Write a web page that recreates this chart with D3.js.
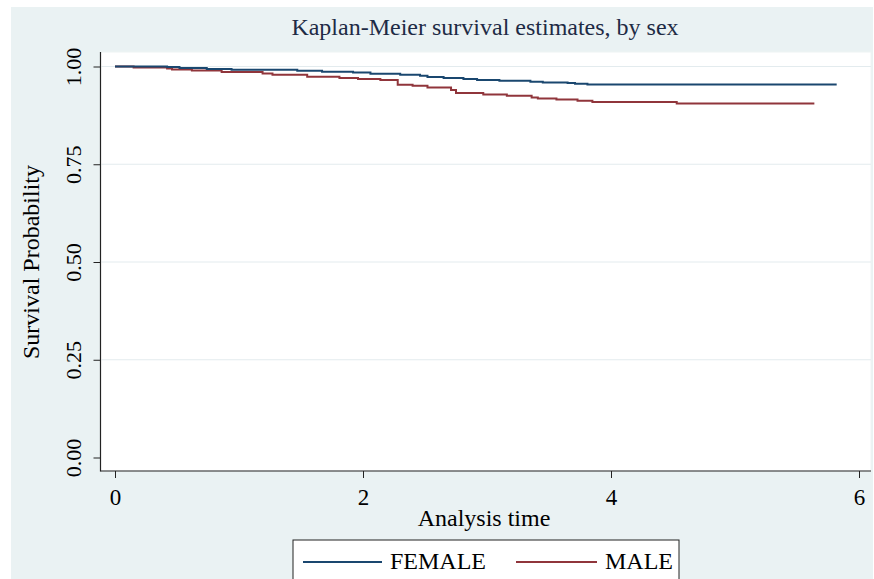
<!DOCTYPE html>
<html>
<head>
<meta charset="utf-8">
<script src="https://cdn.jsdelivr.net/npm/d3@7"></script>
<style>
  html, body { margin: 0; padding: 0; background: #ffffff; }
  svg { display: block; }
  text { font-family: "Liberation Serif", "DejaVu Serif", serif; }
</style>
</head>
<body>
<svg id="chart" width="874" height="579"></svg>
<script>
// ---- data ----
const titleText = "Kaplan-Meier survival estimates, by sex";
const xTitle = "Analysis time";
const yTitle = "Survival Probability";
const xTicks = [0, 2, 4, 6];
const yTicks = [0, 0.25, 0.5, 0.75, 1];
const seriesNames = ["FEMALE", "MALE"];

const femaleTime = [0, 0.42, 0.52, 0.74, 0.94, 1.47, 1.67, 1.92, 2.06, 2.30, 2.46, 2.52, 2.65, 2.81, 2.92, 3.10, 3.35, 3.45, 3.65, 3.71, 3.81, 5.82];
const femaleSurv = [1.0, 0.9985, 0.996, 0.9933, 0.9916, 0.989, 0.9864, 0.9847, 0.9813, 0.9788, 0.9762, 0.9729, 0.9703, 0.9678, 0.9652, 0.9634, 0.9609, 0.959, 0.9575, 0.9558, 0.954, 0.954];

const maleTime = [0, 0.15, 0.42, 0.46, 0.62, 0.86, 1.19, 1.27, 1.55, 1.81, 1.96, 2.14, 2.28, 2.40, 2.52, 2.71, 2.75, 2.97, 3.16, 3.36, 3.41, 3.56, 3.73, 3.85, 4.53, 5.64];
const maleSurv = [1.0, 0.9974, 0.9949, 0.9923, 0.9898, 0.9857, 0.9821, 0.9788, 0.9737, 0.9703, 0.9678, 0.9652, 0.9532, 0.9506, 0.9463, 0.940, 0.932, 0.9284, 0.925, 0.9207, 0.918, 0.9156, 0.9123, 0.9089, 0.9054, 0.9054];

// ---- layout ----
const W = 874, H = 579;
const plot = { left: 100.5, right: 871, top: 52, bottom: 471 };
const colors = { FEMALE: "#1A476F", MALE: "#90353B" };

const svg = d3.select("#chart");

// graph region
svg.append("rect").attr("x", 11).attr("y", 7).attr("width", 862).attr("height", H - 7)
  .attr("fill", "#EAF2F3");
// plot region
svg.append("rect").attr("x", plot.left).attr("y", plot.top)
  .attr("width", plot.right - plot.left).attr("height", plot.bottom - plot.top)
  .attr("fill", "#ffffff").attr("stroke", "#EEF3F4").attr("stroke-width", 1);

const x = d3.scaleLinear().domain([0, 6]).range([115, 859]);
const y = d3.scaleLinear().domain([0, 1]).range([457.5, 66.5]);

// gridlines
svg.append("g").selectAll("line").data(yTicks.filter(d => d > 0)).join("line")
  .attr("x1", plot.left + 1).attr("x2", plot.right)
  .attr("y1", d => y(d)).attr("y2", d => y(d))
  .attr("stroke", "#E3EBEE").attr("stroke-width", 1);

// curves
const line = d3.line().x(d => x(d[0])).y(d => y(d[1])).curve(d3.curveStepAfter);
const fData = femaleTime.map((t, i) => [t, femaleSurv[i]]);
const mData = maleTime.map((t, i) => [t, maleSurv[i]]);
svg.append("path").datum(mData).attr("d", line).attr("fill", "none")
  .attr("stroke", colors.MALE).attr("stroke-width", 2);
svg.append("path").datum(fData).attr("d", line).attr("fill", "none")
  .attr("stroke", colors.FEMALE).attr("stroke-width", 2);

// axes
const yAxis = d3.axisLeft(y).tickValues(yTicks).tickFormat(d3.format(".2f")).tickSize(7).tickSizeOuter(0);
const gy = svg.append("g").attr("transform", `translate(${plot.left},0)`).call(yAxis);
gy.select(".domain").remove();
gy.selectAll(".tick line").attr("stroke", "#222");
gy.selectAll(".tick text")
  .attr("x", null).attr("dy", null)
  .attr("transform", "translate(-20,0) rotate(-90)")
  .attr("text-anchor", "middle")
  .attr("font-size", 22).attr("fill", "#000")
  .style("font-family", "'Liberation Serif', serif");

const xAxis = d3.axisBottom(x).tickValues(xTicks).tickFormat(d3.format("d")).tickSize(7).tickSizeOuter(0);
const gx = svg.append("g").attr("transform", `translate(0,${plot.bottom})`).call(xAxis);
gx.select(".domain").remove();
gx.selectAll(".tick line").attr("stroke", "#222");
gx.selectAll(".tick text")
  .attr("y", 34).attr("dy", null)
  .attr("font-size", 23).attr("fill", "#000")
  .style("font-family", "'Liberation Serif', serif");

// axis lines
svg.append("line").attr("x1", plot.left).attr("x2", plot.left).attr("y1", plot.top).attr("y2", plot.bottom + 0.5)
  .attr("stroke", "#222").attr("stroke-width", 1.2);
svg.append("line").attr("x1", plot.left).attr("x2", plot.right).attr("y1", plot.bottom).attr("y2", plot.bottom)
  .attr("stroke", "#222").attr("stroke-width", 1.2);

// title
svg.append("text").attr("x", 485).attr("y", 35).attr("text-anchor", "middle")
  .attr("font-size", 24).attr("fill", "#1E2B45").text(titleText);

// axis titles
svg.append("text").attr("x", 484).attr("y", 526).attr("text-anchor", "middle")
  .attr("font-size", 24).attr("fill", "#000").text(xTitle);
svg.append("text").attr("transform", "translate(39,262) rotate(-90)").attr("text-anchor", "middle")
  .attr("font-size", 24).attr("fill", "#000").text(yTitle);

// legend
const lg = svg.append("g");
lg.append("rect").attr("x", 293).attr("y", 540).attr("width", 386).attr("height", 60)
  .attr("fill", "#ffffff").attr("stroke", "#222").attr("stroke-width", 1);
const legendItems = [
  { name: seriesNames[0], x1: 303, x2: 382, tx: 390 },
  { name: seriesNames[1], x1: 516, x2: 597, tx: 605 }
];
legendItems.forEach(it => {
  lg.append("line").attr("x1", it.x1).attr("x2", it.x2).attr("y1", 562).attr("y2", 562)
    .attr("stroke", colors[it.name]).attr("stroke-width", 2);
  lg.append("text").attr("x", it.tx).attr("y", 569).attr("font-size", 24).attr("fill", "#000").text(it.name);
});
</script>
</body>
</html>
